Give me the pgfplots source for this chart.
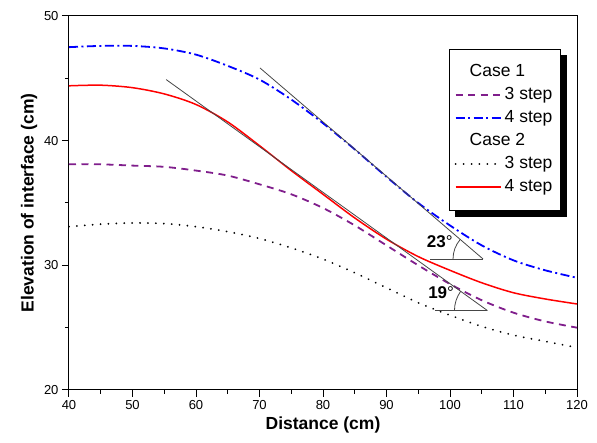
\documentclass[border=0pt]{standalone}
\usepackage{fontspec}
\setmainfont{Liberation Sans}
\usepackage{pgfplots}
\pgfplotsset{compat=1.18}
\usetikzlibrary{backgrounds}
\definecolor{mypurple}{RGB}{128,30,140}
\definecolor{tang}{RGB}{70,70,70}
\pgfplotsset{
  s1/.style={mypurple, line width=1.8pt, dash pattern=on 7pt off 5.5pt},
  s2/.style={blue, line width=1.8pt, dash pattern=on 9pt off 3.5pt on 2pt off 3.5pt},
  s3/.style={black, line width=2pt, line cap=round, dash pattern=on 0.01pt off 7.9pt},
  s4/.style={red, line width=1.5pt, solid},
}
\begin{document}
\begin{tikzpicture}
\begin{axis}[
  name=ax,
  scale only axis, width=508pt, height=374pt,
  xmin=40, xmax=120, ymin=20, ymax=50,
  xtick={40,50,...,120}, ytick={20,30,40,50},
  minor x tick num=1, minor y tick num=1,
  tick align=outside, tick pos=left,
  major tick length=7pt, minor tick length=4pt,
  every tick/.style={black, line width=1pt},
  axis line style={line width=1pt},
  tick label style={font=\fontsize{13}{15}\selectfont},
  /pgf/number format/assume math mode=true,
  xlabel={Distance (cm)}, ylabel={Elevation of interface (cm)},
  label style={font=\bfseries\fontsize{17.5}{20}\selectfont},
  legend style={name=leg, at={(0.7486,0.913)}, anchor=north west, draw=black, line width=0.8pt, fill=white,
    font=\fontsize{17.5}{20}\selectfont, inner xsep=5pt, inner ysep=12pt,
    nodes={inner sep=3pt, text height=13pt, text depth=3.9pt}},
  legend cell align=left,
  legend image code/.code={\draw[#1] (0pt,0pt) -- (45pt,0pt);},
]
\addlegendimage{empty legend}
\addlegendentry{\hspace{-35pt}Case 1}
\addlegendimage{s1}
\addlegendentry{3 step}
\addlegendimage{s2}
\addlegendentry{4 step}
\addlegendimage{empty legend}
\addlegendentry{\hspace{-35pt}Case 2}
\addlegendimage{s3}
\addlegendentry{3 step}
\addlegendimage{s4}
\addlegendentry{4 step}

\addplot[s1, smooth, forget plot] coordinates {
(40,38.1) (45,38.1) (50,38.0) (55,37.9) (60,37.6) (65,37.2) (70,36.5) (75,35.7) (80,34.6) (85,33.2) (90,31.6) (95,30.0) (100,28.5) (105,27.2) (110,26.2) (115,25.5) (120,25.0)};
\addplot[s2, smooth, forget plot] coordinates {
(40,47.5) (45,47.6) (50,47.6) (55,47.4) (60,46.9) (65,46.0) (70,44.9) (75,43.3) (80,41.4) (85,39.3) (90,37.1) (95,35.0) (100,33.2) (105,31.6) (110,30.4) (115,29.6) (120,29.0)};
\addplot[s3, smooth, forget plot] coordinates {
(40,33.1) (45,33.3) (50,33.4) (55,33.35) (60,33.1) (65,32.7) (70,32.15) (75,31.4) (80,30.5) (85,29.4) (90,28.2) (95,27.0) (100,26.0) (105,25.1) (110,24.4) (115,23.9) (120,23.4)};
\addplot[s4, smooth, forget plot] coordinates {
(40,44.4) (45,44.45) (50,44.25) (55,43.75) (60,42.9) (65,41.5) (70,39.6) (75,37.6) (80,35.7) (85,33.8) (90,32.1) (95,30.7) (100,29.6) (105,28.6) (110,27.8) (115,27.3) (120,26.9)};
% tangent lines and angle markers
\addplot[tang, line width=0.8pt, forget plot] coordinates {(70.08,45.83) (105.2,30.51)};
\addplot[tang, line width=0.8pt, forget plot] coordinates {(96.9,30.51) (105.2,30.51)};
\addplot[tang, line width=0.8pt, forget plot] coordinates {(55.3,44.9) (105.9,26.37)};
\addplot[tang, line width=0.8pt, forget plot] coordinates {(97.6,26.37) (105.9,26.37)};
\draw[tang, line width=0.8pt] (axis cs:105.2,30.51) ++(180:30pt) arc[start angle=180, end angle=139.4, radius=30pt];
\draw[tang, line width=0.8pt] (axis cs:105.9,26.37) ++(180:33pt) arc[start angle=180, end angle=144.3, radius=33pt];
\node[font=\bfseries\fontsize{17}{19}\selectfont] at (axis cs:98.4,31.9) {23\textmd{°}};
\node[font=\bfseries\fontsize{17}{19}\selectfont] at (axis cs:98.6,27.8) {19\textmd{°}};
\end{axis}
\begin{scope}[on background layer]
\fill[black] ([xshift=6pt,yshift=-6pt]leg.south west) rectangle ([xshift=6pt,yshift=-6pt]leg.north east);
\end{scope}
\pgfresetboundingbox
\useasboundingbox ([xshift=-69pt,yshift=-53pt]ax.south west) rectangle ([xshift=20pt,yshift=16pt]ax.north east);
\end{tikzpicture}
\end{document}
